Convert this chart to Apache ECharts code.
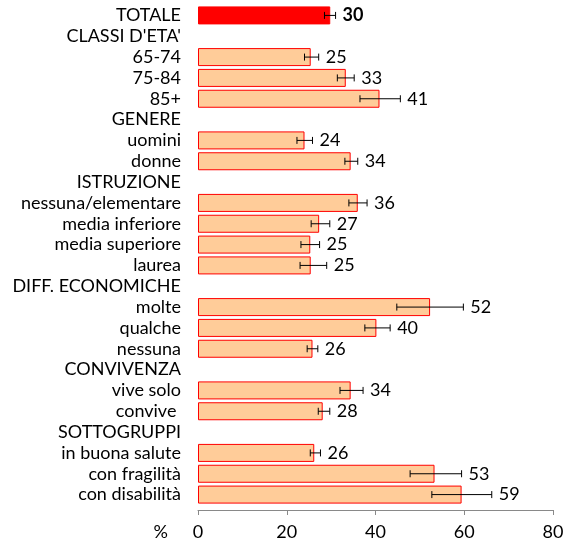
<!DOCTYPE html>
<html>
<head>
<meta charset="utf-8">
<script src="https://cdn.jsdelivr.net/npm/echarts@6/dist/echarts.min.js"></script>
<style>
  html, body { margin: 0; padding: 0; background: #fff; }
  #chart { width: 571px; height: 541px; }
</style>
</head>
<body>
<div id="chart"></div>
<script>
// righe del grafico (le intestazioni di gruppo non hanno barra)
const categories = ['TOTALE', "CLASSI D'ETA'", '65-74', '75-84', '85+', 'GENERE', 'uomini', 'donne',
  'ISTRUZIONE', 'nessuna/elementare', 'media inferiore', 'media superiore', 'laurea',
  'DIFF. ECONOMICHE', 'molte', 'qualche', 'nessuna', 'CONVIVENZA', 'vive solo', 'convive ',
  'SOTTOGRUPPI', 'in buona salute', 'con fragilità', 'con disabilità'];
const values = [29.8, null, 25.4, 33.3, 40.9, null, 24.0, 34.4, null, 36.0, 27.3, 25.3, 25.4,
  null, 52.3, 40.2, 25.8, null, 34.4, 28.1, null, 26.2, 53.3, 59.4];
// intervalli di confidenza
const lower = [28.5, null, 24.0, 31.4, 36.5, null, 22.3, 33.1, null, 34.0, 25.5, 23.2, 23.0,
  null, 44.8, 37.6, 24.6, null, 32.0, 27.1, null, 25.3, 47.8, 52.7];
const upper = [31.0, null, 27.2, 35.2, 45.6, null, 25.8, 36.0, null, 38.1, 29.7, 27.4, 29.0,
  null, 59.8, 43.3, 27.0, null, 37.2, 29.7, null, 27.6, 59.4, 66.2];
const xTicks = [0, 20, 40, 60, 80];

const FONT = 'Lato';

let chart = echarts.init(document.getElementById('chart'));

let barData = values.map((v, i) => {
  if (v === null) return '-';
  return {
    value: v,
    itemStyle: i === 0 ? { color: '#FF0000', borderColor: '#FF0000' } : {}
  };
});

let errData = [];
values.forEach((v, i) => {
  if (v !== null) errData.push([i, lower[i], upper[i], Math.round(v)]);
});

let option = {
  animation: false,
  grid: { left: 198, right: 18, top: 5, bottom: 36, containLabel: false },
  xAxis: {
    type: 'value',
    min: xTicks[0],
    max: xTicks[xTicks.length - 1],
    interval: 20,
    offset: 5,
    name: '%',
    nameLocation: 'start',
    nameGap: 30,
    nameTextStyle: { color: '#000', fontFamily: FONT, fontSize: 18, verticalAlign: 'top', padding: [13, 0, 0, 0] },
    axisLine: { show: true, lineStyle: { color: '#898989', width: 1 } },
    axisTick: { show: true, length: 5, lineStyle: { color: '#898989' } },
    axisLabel: { color: '#000', fontFamily: FONT, fontSize: 18, margin: 13 },
    splitLine: { show: false }
  },
  yAxis: {
    type: 'category',
    inverse: true,
    data: categories,
    axisLine: { show: false },
    axisTick: { show: false },
    axisLabel: { color: '#000', fontFamily: FONT, fontSize: 18, margin: 17, interval: 0 }
  },
  series: [
    {
      type: 'bar',
      data: barData,
      barWidth: 18,
      itemStyle: { color: '#FFCC99', borderColor: '#FF0000', borderWidth: 1 }
    },
    {
      type: 'custom',
      data: errData,
      encode: { x: [1, 2], y: 0 },
      z: 10,
      renderItem: function (params, api) {
        let idx = api.value(0);
        let lo = api.coord([api.value(1), idx]);
        let hi = api.coord([api.value(2), idx]);
        let cap = 3.5;
        let style = { stroke: '#000', lineWidth: 1 };
        return {
          type: 'group',
          children: [
            { type: 'line', shape: { x1: lo[0], y1: lo[1], x2: hi[0], y2: hi[1] }, style: style },
            { type: 'line', shape: { x1: lo[0], y1: lo[1] - cap, x2: lo[0], y2: lo[1] + cap }, style: style },
            { type: 'line', shape: { x1: hi[0], y1: hi[1] - cap, x2: hi[0], y2: hi[1] + cap }, style: style },
            {
              type: 'text',
              x: hi[0] + 7,
              y: hi[1],
              style: {
                text: String(api.value(3)),
                fill: '#000',
                font: (idx === 0 ? 'bold ' : '') + '18px ' + FONT,
                verticalAlign: 'middle',
                align: 'left'
              }
            }
          ]
        };
      }
    }
  ]
};

chart.setOption(option);
</script>
</body>
</html>
